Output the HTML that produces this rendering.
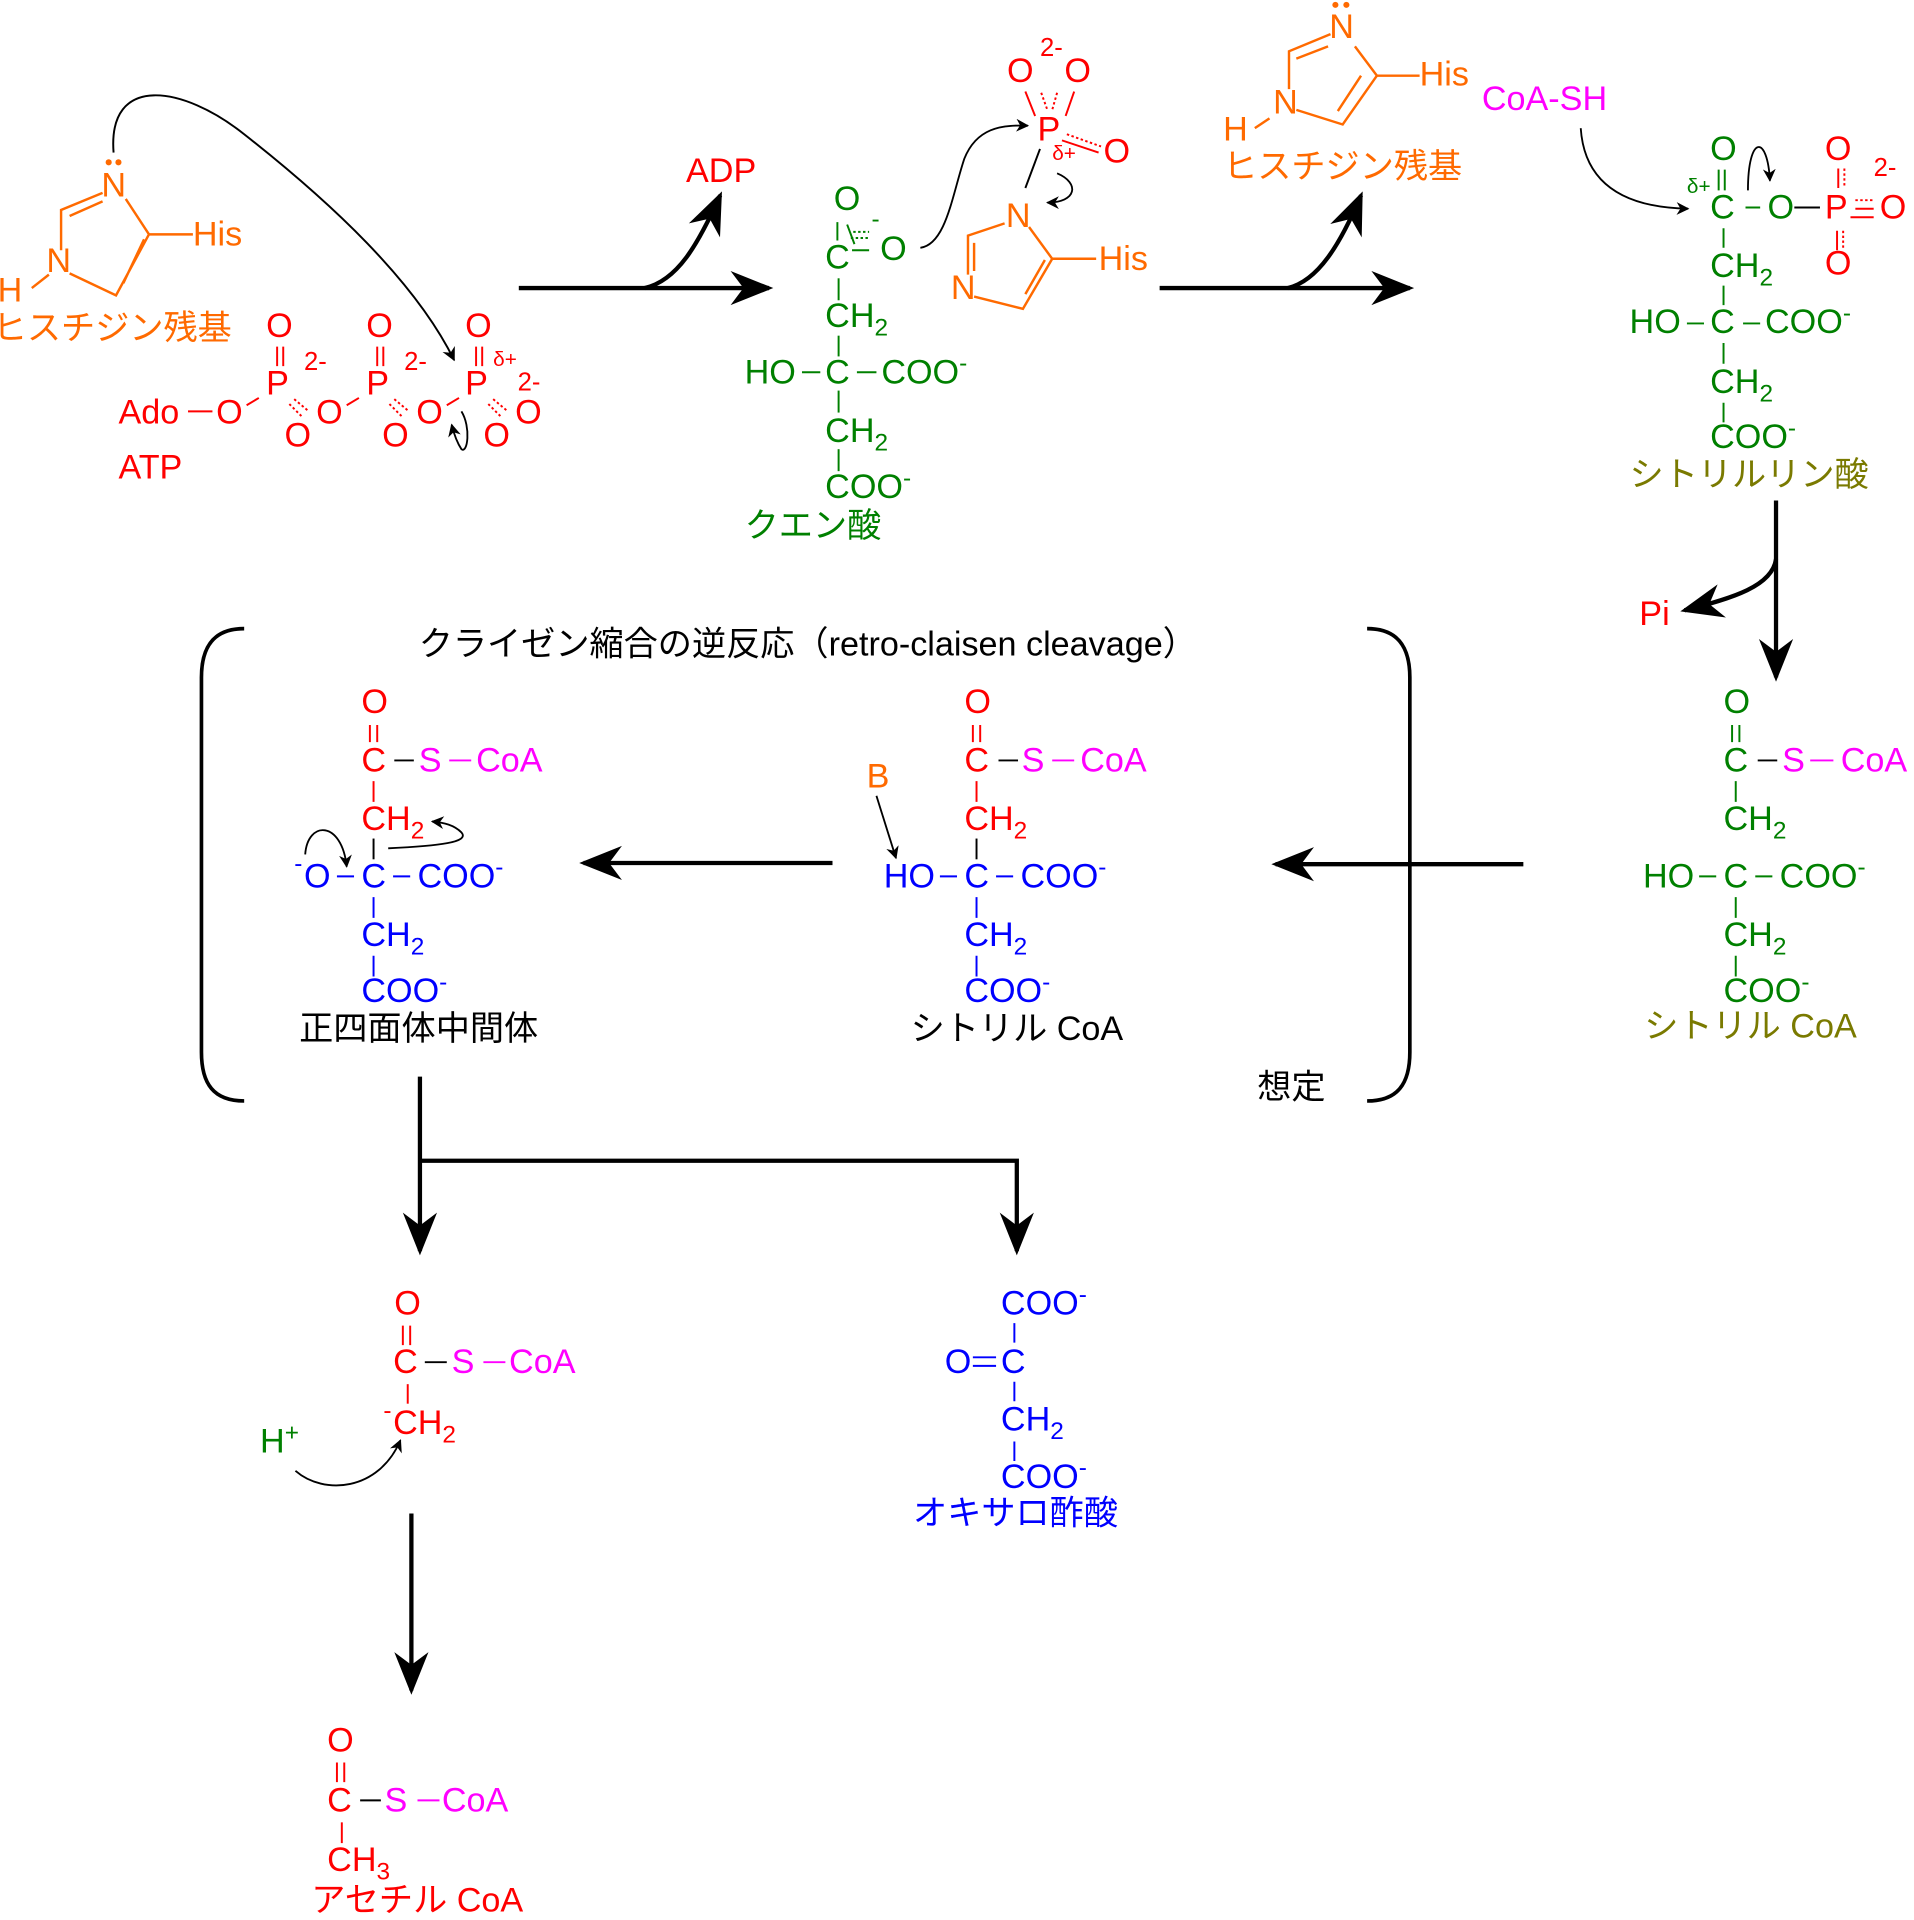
<!DOCTYPE html>
<html><head><meta charset="utf-8"><style>
html,body{margin:0;padding:0;background:#fff}
svg{display:block}
text{font-family:"Liberation Sans","Noto Sans CJK JP",sans-serif;font-size:28px}
.r{fill:#f00}.g{fill:#008000}.o{fill:#ff6a00}.m{fill:#f0f}.b{fill:#00f}.k{fill:#000}.ol{fill:#7a7a00}
.s{font-size:17px}
.jp{font-size:28px}
</style></head><body>
<svg width="1914" height="1920" viewBox="0 0 1568 1573" xmlns="http://www.w3.org/2000/svg">
<defs>
<marker id="ah" viewBox="0 0 10 10" refX="9" refY="5" markerWidth="7" markerHeight="7" orient="auto-start-reverse"><path d="M0,0 L10,5 L0,10 L3,5 z" fill="#000"/></marker>
<marker id="as" viewBox="0 0 10 10" refX="9" refY="5" markerWidth="10" markerHeight="10" orient="auto"><path d="M0,1 L10,5 L0,9 L3,5 z" fill="#000"/></marker>
</defs>

<!-- ===== Top-left imidazole ===== -->
<g stroke="#ff6a00" stroke-width="2" fill="none">
<path d="M84,158 L50,172 L50,205 M57,177 L84,165"/>
<path d="M57,224 L95,242 L122,192 L103,163 M101,232 L118,196"/>
<path d="M122,192 L158,192"/>
<path d="M40,225 L26,236"/>
</g>
<circle cx="89" cy="133" r="2.5" fill="#ff6a00"/><circle cx="97" cy="133" r="2.5" fill="#ff6a00"/>
<text class="o" x="83" y="161">N</text>
<text class="o" x="38" y="223">N</text>
<text class="o" x="158" y="201">His</text>
<text class="o" x="-2" y="247">H</text>
<text class="o jp" x="-6" y="278">ヒスチジン残基</text>

<!-- ATP -->
<g class="r">
<text x="97" y="347">Ado</text><text x="177" y="347">O</text>
<text x="218" y="276">O</text><text x="218" y="323">P</text><text x="249" y="303" style="font-size:21px">2-</text>
<text x="233" y="366">O</text><text x="259" y="347">O</text>
<text x="300" y="276">O</text><text x="300" y="323">P</text><text x="331" y="303" style="font-size:21px">2-</text>
<text x="313" y="366">O</text><text x="341" y="347">O</text>
<text x="381" y="276">O</text><text x="381" y="323">P</text><text x="404" y="300" class="s">δ+</text><text x="424" y="320" style="font-size:21px">2-</text>
<text x="396" y="366">O</text><text x="422" y="347">O</text>
<text x="97" y="392">ATP</text>
</g>
<g stroke="#f00" stroke-width="1.6">
<line x1="154" y1="337" x2="174" y2="337"/>
<path d="M202,332 L212,326 M284,332 L294,326 M366,332 L376,326"/>
<path d="M227,284 V300 M232,284 V300 M309,284 V300 M314,284 V300 M390,284 V300 M395,284 V300" />
<path d="M237,331 L247,341 M241,327 L253,337 M319,331 L329,341 M323,327 L335,337 M400,331 L410,341 M404,327 L416,337" stroke-dasharray="2,2"/>
</g>
<path d="M93,125 C88,60 150,70 200,110 C270,165 340,230 372,295" stroke="#000" stroke-width="1.6" fill="none" marker-end="url(#ah)"/>
<path d="M378,337 C386,350 383,372 378,368 C374,362 372,356 370,348" stroke="#000" stroke-width="1.5" fill="none" marker-end="url(#ah)"/>

<!-- Arrow 1 -->
<line x1="425" y1="236" x2="630" y2="236" stroke="#000" stroke-width="3.5" marker-end="url(#as)"/>
<path d="M528,236 C555,230 572,200 590,160" stroke="#000" stroke-width="3.5" fill="none" marker-end="url(#as)"/>
<text class="r" x="562" y="149">ADP</text>

<!-- Citrate -->
<g class="g">
<text x="683" y="172">O</text><text x="714" y="186" style="font-size:20px">-</text>
<text x="676" y="220">C</text><text x="721" y="213">O</text>
<text x="676" y="268">CH<tspan dy="7" style="font-size:20px">2</tspan></text>
<text x="610" y="314">HO</text><text x="676" y="314">C</text><text x="722" y="314">COO<tspan dy="-10" style="font-size:20px">-</tspan></text>
<text x="676" y="362">CH<tspan dy="7" style="font-size:20px">2</tspan></text>
<text x="676" y="408">COO<tspan dy="-10" style="font-size:20px">-</tspan></text>
<text x="610" y="440" class="jp g">クエン酸</text>
</g>
<g stroke="#008000" stroke-width="1.6">
<path d="M686,182 V197 M694,184 L700,200" stroke-dasharray="none"/>
<path d="M697,195 L712,195 M699,190 L712,190" stroke-dasharray="2,2"/>
<line x1="698" y1="205" x2="712" y2="205"/>
<line x1="687" y1="228" x2="687" y2="246"/>
<line x1="687" y1="275" x2="687" y2="292"/>
<path d="M657,305 H672 M702,305 H718"/>
<line x1="687" y1="320" x2="687" y2="338"/>
<line x1="687" y1="368" x2="687" y2="386"/>
</g>

<!-- phospho-His intermediate -->
<g class="r">
<text x="825" y="67">O</text><text x="852" y="46" style="font-size:21px">2-</text><text x="872" y="67">O</text>
<text x="850" y="115">P</text><text x="862" y="131" class="s">δ+</text><text x="904" y="133">O</text>
</g>
<g stroke="#f00" stroke-width="1.6">
<path d="M840,75 L848,95 M880,75 L873,95"/>
<path d="M853,76 L858,90 M866,76 L862,90 M874,110 L902,120" stroke-dasharray="2,2"/>
<line x1="870" y1="115" x2="900" y2="125"/>
</g>
<line x1="852" y1="122" x2="840" y2="154" stroke="#000" stroke-width="1.6"/>
<g stroke="#ff6a00" stroke-width="2" fill="none">
<path d="M823,183 L793,193 L793,225 M798,199 L798,222"/>
<path d="M798,243 L838,253 L862,212 L843,186 M840,241 L856,213"/>
<path d="M862,212 L898,212"/>
</g>
<text class="o" x="824" y="186">N</text>
<text class="o" x="779" y="245">N</text>
<text class="o" x="900" y="221">His</text>
<path d="M754,203 C775,200 780,160 790,130 C800,105 820,102 842,103" stroke="#000" stroke-width="1.5" fill="none" marker-end="url(#ah)"/>
<path d="M866,142 C885,150 882,166 858,166" stroke="#000" stroke-width="1.5" fill="none" marker-end="url(#ah)"/>

<!-- Arrow 2 -->
<line x1="950" y1="236" x2="1155" y2="236" stroke="#000" stroke-width="3.5" marker-end="url(#as)"/>
<path d="M1055,236 C1080,230 1098,200 1115,160" stroke="#000" stroke-width="3.5" fill="none" marker-end="url(#as)"/>

<!-- top-right imidazole -->
<g stroke="#ff6a00" stroke-width="2" fill="none">
<path d="M1090,28 L1056,42 L1056,73 M1062,48 L1088,38"/>
<path d="M1062,90 L1100,102 L1128,62 L1110,38 M1096,91 L1115,62"/>
<path d="M1128,62 L1163,62"/>
<path d="M1040,97 L1028,105"/>
</g>
<circle cx="1094" cy="4" r="2.5" fill="#ff6a00"/><circle cx="1103" cy="4" r="2.5" fill="#ff6a00"/>
<text class="o" x="1089" y="31">N</text>
<text class="o" x="1043" y="93">N</text>
<text class="o" x="1163" y="70">His</text>
<text class="o" x="1002" y="115">H</text>
<text class="o jp" x="1002" y="146">ヒスチジン残基</text>
<text class="m" x="1214" y="90">CoA-SH</text>
<path d="M1295,105 C1298,150 1330,170 1383,171" stroke="#000" stroke-width="1.5" fill="none" marker-end="url(#ah)"/>

<!-- citryl phosphate -->
<g class="g">
<text x="1401" y="131">O</text><text x="1382" y="158" class="s">δ+</text>
<text x="1401" y="179">C</text><text x="1448" y="179">O</text>
<text x="1401" y="227">CH<tspan dy="7" style="font-size:20px">2</tspan></text>
<text x="1335" y="273">HO</text><text x="1401" y="273">C</text><text x="1446" y="273">COO<tspan dy="-10" style="font-size:20px">-</tspan></text>
<text x="1401" y="322">CH<tspan dy="7" style="font-size:20px">2</tspan></text>
<text x="1401" y="367">COO<tspan dy="-10" style="font-size:20px">-</tspan></text>
</g>
<g class="r">
<text x="1495" y="131">O</text><text x="1535" y="144" style="font-size:21px">2-</text>
<text x="1495" y="179">P</text><text x="1540" y="179">O</text>
<text x="1495" y="225">O</text>
</g>
<text class="ol jp" x="1335" y="398">シトリルリン酸</text>
<g stroke="#008000" stroke-width="1.6">
<path d="M1408,139 V156 M1413,139 V156 M1430,170 H1442 M1412,187 V203 M1412,234 V250 M1382,265 H1396 M1428,265 H1442 M1412,281 V298 M1412,330 V346"/>
</g>
<line x1="1470" y1="170" x2="1491" y2="170" stroke="#000" stroke-width="1.6"/>
<g stroke="#f00" stroke-width="1.6">
<path d="M1506,138 V154 M1520,171 H1535 M1505,189 V205 M1516,178 H1535"/>
<path d="M1511,138 V154 M1520,164 H1535 M1510,189 V205" stroke-dasharray="2,2"/>
</g>
<path d="M1432,156 C1432,110 1448,110 1450,148" stroke="#000" stroke-width="1.5" fill="none" marker-end="url(#ah)"/>

<!-- down arrow with Pi -->
<line x1="1455" y1="410" x2="1455" y2="555" stroke="#000" stroke-width="3.5" marker-end="url(#as)"/>
<path d="M1455,458 C1452,480 1420,490 1380,500" stroke="#000" stroke-width="3.5" fill="none" marker-end="url(#as)"/>
<text class="r" x="1343" y="512">Pi</text>

<!-- citryl CoA right -->
<g class="g">
<text x="1412" y="584">O</text>
<text x="1412" y="632">C</text>
<text x="1412" y="680">CH<tspan dy="7" style="font-size:20px">2</tspan></text>
<text x="1346" y="727">HO</text><text x="1412" y="727">C</text><text x="1458" y="727">COO<tspan dy="-10" style="font-size:20px">-</tspan></text>
<text x="1412" y="775">CH<tspan dy="7" style="font-size:20px">2</tspan></text>
<text x="1412" y="821">COO<tspan dy="-10" style="font-size:20px">-</tspan></text>
</g>
<text class="m" x="1460" y="632">S</text><text class="m" x="1508" y="632">CoA</text>
<text class="ol jp" x="1347" y="850">シトリル CoA</text>
<g stroke="#008000" stroke-width="1.6"><path d="M1419,594 V608 M1425,594 V608 M1422,640 V657 M1392,718 H1406 M1438,718 H1452 M1422,735 V752 M1422,783 V800"/></g>
<line x1="1440" y1="623" x2="1456" y2="623" stroke="#000" stroke-width="1.6"/>
<line x1="1483" y1="623" x2="1502" y2="623" stroke="#f0f" stroke-width="1.6"/>

<!-- arrow left -->
<line x1="1248" y1="708" x2="1045" y2="708" stroke="#000" stroke-width="3.5" marker-end="url(#as)"/>

<!-- brackets -->
<path d="M200,515 C175,515 165,530 165,555 V862 C165,888 175,902 200,902" stroke="#000" stroke-width="3" fill="none"/>
<path d="M1120,515 C1145,515 1155,530 1155,555 V862 C1155,888 1145,902 1120,902" stroke="#000" stroke-width="3" fill="none"/>
<text class="k jp" x="343" y="537">クライゼン縮合の逆反応（retro-claisen cleavage）</text>
<text class="k jp" x="1030" y="900">想定</text>

<!-- citryl CoA middle -->
<text class="r" x="790" y="584">O</text>
<text class="r" x="790" y="632">C</text>
<text class="m" x="837" y="632">S</text><text class="m" x="885" y="632">CoA</text>
<text class="r" x="790" y="680">CH<tspan dy="7" style="font-size:20px">2</tspan></text>
<text class="o" x="710" y="645">B</text>
<g class="b">
<text x="724" y="727">HO</text><text x="790" y="727">C</text><text x="836" y="727">COO<tspan dy="-10" style="font-size:20px">-</tspan></text>
<text x="790" y="775">CH<tspan dy="7" style="font-size:20px">2</tspan></text>
<text x="790" y="821">COO<tspan dy="-10" style="font-size:20px">-</tspan></text>
</g>
<text class="k jp" x="746" y="852">シトリル CoA</text>
<g stroke-width="1.6">
<path d="M797,594 V608 M803,594 V608 M800,640 V657" stroke="#f00"/>
<line x1="818" y1="623" x2="834" y2="623" stroke="#000"/>
<line x1="862" y1="623" x2="880" y2="623" stroke="#f0f"/>
<line x1="800" y1="687" x2="800" y2="704" stroke="#000"/>
<path d="M770,718 H784 M816,718 H830 M800,735 V752 M800,783 V800" stroke="#00f"/>
</g>
<line x1="718" y1="652" x2="734" y2="703" stroke="#000" stroke-width="1.5" marker-end="url(#ah)"/>

<!-- arrow left 2 -->
<line x1="682" y1="707" x2="478" y2="707" stroke="#000" stroke-width="3.5" marker-end="url(#as)"/>

<!-- tetrahedral intermediate -->
<text class="r" x="296" y="584">O</text>
<text class="r" x="296" y="632">C</text>
<text class="m" x="343" y="632">S</text><text class="m" x="390" y="632">CoA</text>
<text class="r" x="296" y="680">CH<tspan dy="7" style="font-size:20px">2</tspan></text>
<g class="b">
<text x="241" y="714" style="font-size:20px">-</text><text x="249" y="727">O</text><text x="296" y="727">C</text><text x="342" y="727">COO<tspan dy="-10" style="font-size:20px">-</tspan></text>
<text x="296" y="775">CH<tspan dy="7" style="font-size:20px">2</tspan></text>
<text x="296" y="821">COO<tspan dy="-10" style="font-size:20px">-</tspan></text>
</g>
<text class="k jp" x="245" y="852">正四面体中間体</text>
<g stroke-width="1.6">
<path d="M303,594 V608 M309,594 V608 M306,640 V657" stroke="#f00"/>
<line x1="323" y1="623" x2="339" y2="623" stroke="#000"/>
<line x1="368" y1="623" x2="386" y2="623" stroke="#f0f"/>
<line x1="306" y1="687" x2="306" y2="704" stroke="#000"/>
<path d="M276,718 H290 M322,718 H336 M306,735 V752 M306,783 V800" stroke="#00f"/>
</g>
<path d="M250,700 C252,672 280,672 284,710" stroke="#000" stroke-width="1.5" fill="none" marker-end="url(#ah)"/>
<path d="M318,695 C360,693 385,690 378,682 C372,676 364,674 354,673" stroke="#000" stroke-width="1.5" fill="none" marker-end="url(#ah)"/>

<!-- bottom split arrows -->
<line x1="344" y1="882" x2="344" y2="1025" stroke="#000" stroke-width="3.5" marker-end="url(#as)"/>
<polyline points="344,951 833,951 833,1025" stroke="#000" stroke-width="3.5" fill="none" marker-end="url(#as)"/>

<!-- acetyl CoA enolate -->
<text class="r" x="323" y="1077">O</text>
<text class="r" x="322" y="1125">C</text>
<text class="m" x="370" y="1125">S</text><text class="m" x="417" y="1125">CoA</text>
<text class="r" x="314" y="1162" style="font-size:20px">-</text>
<text class="r" x="322" y="1175">CH<tspan dy="7" style="font-size:20px">2</tspan></text>
<g stroke-width="1.6">
<path d="M330,1086 V1102 M336,1086 V1102" stroke="#f00"/>
<line x1="348" y1="1116" x2="366" y2="1116" stroke="#000"/>
<line x1="396" y1="1116" x2="414" y2="1116" stroke="#f0f"/>
<line x1="334" y1="1134" x2="334" y2="1150" stroke="#f00"/>
</g>
<text class="g" x="213" y="1190">H<tspan dy="-10" style="font-size:20px">+</tspan></text>
<path d="M242,1205 C265,1225 310,1222 328,1180" stroke="#000" stroke-width="1.5" fill="none" marker-end="url(#ah)"/>

<!-- oxaloacetate -->
<g class="b">
<text x="820" y="1077">COO<tspan dy="-10" style="font-size:20px">-</tspan></text>
<text x="774" y="1125">O</text><text x="820" y="1125">C</text>
<text x="820" y="1172">CH<tspan dy="7" style="font-size:20px">2</tspan></text>
<text x="820" y="1219">COO<tspan dy="-10" style="font-size:20px">-</tspan></text>
<text x="748" y="1249" class="jp b">オキサロ酢酸</text>
</g>
<g stroke="#00f" stroke-width="1.6"><path d="M831,1084 V1100 M797,1112 H816 M797,1119 H816 M831,1132 V1148 M831,1181 V1197"/></g>

<!-- arrow down -->
<line x1="337" y1="1240" x2="337" y2="1385" stroke="#000" stroke-width="3.5" marker-end="url(#as)"/>

<!-- acetyl CoA -->
<text class="r" x="268" y="1435">O</text>
<text class="r" x="268" y="1484">C</text>
<text class="m" x="315" y="1484">S</text><text class="m" x="362" y="1484">CoA</text>
<text class="r" x="268" y="1533">CH<tspan dy="7" style="font-size:20px">3</tspan></text>
<text class="r jp" x="255" y="1566">アセチル CoA</text>
<g stroke-width="1.6">
<path d="M276,1444 V1460 M282,1444 V1460" stroke="#f00"/>
<line x1="295" y1="1475" x2="312" y2="1475" stroke="#000"/>
<line x1="342" y1="1475" x2="360" y2="1475" stroke="#f0f"/>
<line x1="280" y1="1493" x2="280" y2="1510" stroke="#f00"/>
</g>
</svg>
</body></html>
